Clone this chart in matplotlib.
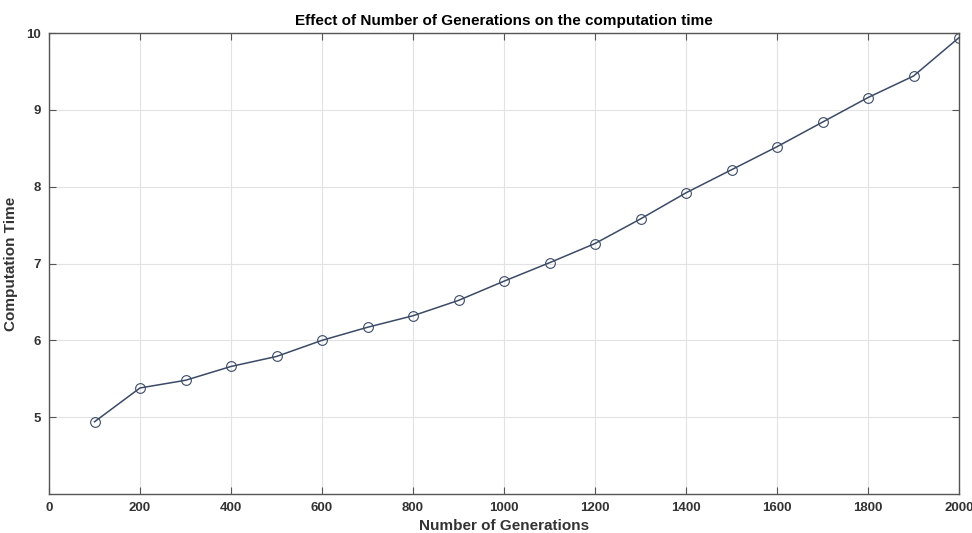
import matplotlib
matplotlib.use("Agg")
import matplotlib.pyplot as plt

# Number of generations vs computation time
generations = [100, 200, 300, 400, 500, 600, 700, 800, 900, 1000,
               1100, 1200, 1300, 1400, 1500, 1600, 1700, 1800, 1900, 2000]
comp_time = [4.94, 5.38, 5.48, 5.66, 5.79, 6.00, 6.17, 6.32, 6.52, 6.77,
             7.01, 7.26, 7.58, 7.92, 8.22, 8.52, 8.84, 9.16, 9.44, 9.94]

x_ticks = [0, 200, 400, 600, 800, 1000, 1200, 1400, 1600, 1800, 2000]
y_ticks = [5, 6, 7, 8, 9, 10]

plt.rcParams['font.family'] = ['Liberation Sans', 'DejaVu Sans']

fig = plt.figure(figsize=(9.72, 5.33), dpi=100)
ax = fig.add_axes([49 / 972, 1 - 494 / 533, 910 / 972, 461 / 533])

ax.plot(generations, comp_time, color='#3b4a66', linewidth=1.1,
        marker='o', markersize=7, markerfacecolor='none',
        markeredgecolor='#3b4a66', markeredgewidth=0.8)

ax.set_xlim(0, 2000)
ax.set_ylim(4, 10)
ax.set_xticks(x_ticks)
ax.set_yticks(y_ticks)
ax.grid(True, color='#e2e2e2', linewidth=0.8)
ax.set_axisbelow(True)

for s in ax.spines.values():
    s.set_color('#555555')
    s.set_linewidth(1.0)
ax.tick_params(direction='in', length=5, color='#555555', labelsize=9.5,
               labelcolor='#333333', top=True, right=True, pad=6)
for lbl in ax.get_xticklabels() + ax.get_yticklabels():
    lbl.set_fontweight('bold')

ax.set_title('Effect of Number of Generations on the computation time',
             fontsize=11, fontweight='bold', pad=6)
ax.set_xlabel('Number of Generations', fontsize=11, fontweight='bold',
              color='#333333', labelpad=3)
ax.set_ylabel('Computation Time', fontsize=11, fontweight='bold',
              color='#333333')
ax.yaxis.set_label_coords(-31 / 910, 0.5)

fig.savefig('out.png', dpi=100)
